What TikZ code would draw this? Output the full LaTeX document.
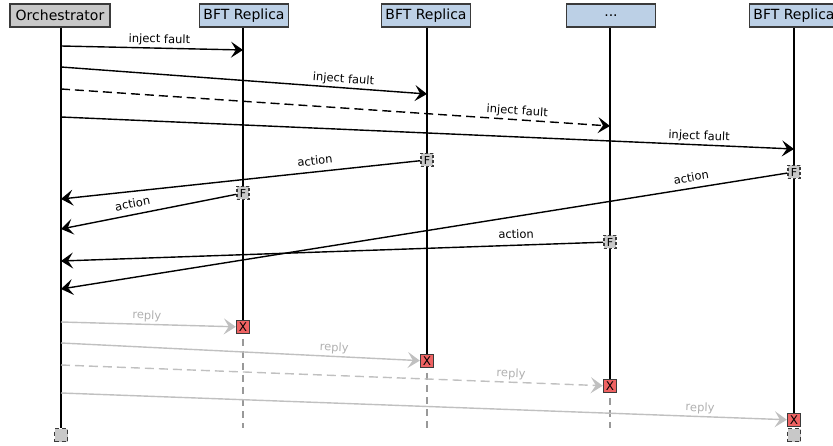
\documentclass[tikz,border=0pt]{standalone}
\usepackage{fontspec}
\setmainfont{DejaVu Sans}
\usetikzlibrary{arrows.meta}
\definecolor{orchfill}{HTML}{C8C8C8}
\definecolor{repfill}{HTML}{BCD0E6}
\definecolor{boxline}{HTML}{3A3A3A}
\definecolor{xred}{HTML}{EE6262}
\definecolor{replygray}{HTML}{C0C0C0}
\definecolor{replytext}{HTML}{B0B0B0}
\definecolor{deadline}{HTML}{999999}
\begin{document}
\begin{tikzpicture}[x=1pt,y=-1pt,
 head/.style={draw=boxline, line width=1.4pt, minimum height=23pt, inner sep=0pt, font=\fontsize{14}{16}\selectfont},
 orchhead/.style={head, fill=orchfill, minimum width=100pt},
 rephead/.style={head, fill=repfill, minimum width=89pt},
 life/.style={line width=1.4pt, black},
 deadlife/.style={line width=1.4pt, deadline, dash pattern=on 7pt off 5pt},
 msg/.style={line width=1.4pt, -{Stealth[length=12pt,width=16pt,inset=5pt]}},
 msgdash/.style={msg, dash pattern=on 9pt off 5pt},
 reply/.style={msg, replygray},
 replydash/.style={reply, dash pattern=on 9pt off 5pt},
 lbl/.style={sloped, above, inner sep=2pt, font=\fontsize{11.5}{13}\selectfont},
 albl/.style={lbl, above=4pt},
 rlbl/.style={lbl, text=replytext},
 faultbox/.style={draw=boxline, fill=orchfill, line width=1.4pt, dash pattern=on 3pt off 2pt, minimum width=12pt, minimum height=13pt, inner sep=0pt, font=\fontsize{11}{11}\selectfont},
 killbox/.style={draw=boxline, fill=xred, line width=1.4pt, minimum width=13pt, minimum height=13pt, inner sep=0pt, font=\fontsize{12}{12}\selectfont},
 endbox/.style={draw=boxline, fill=orchfill, line width=1.4pt, dash pattern=on 4pt off 3pt, minimum width=13pt, minimum height=13pt, inner sep=0pt}
]
\useasboundingbox (0,0) rectangle (833,446);

% heads
\node[orchhead] (orch) at (60,15.5) {Orchestrator};
\node[rephead] (r1) at (244,15.5) {BFT Replica};
\node[rephead] (r2) at (426,15.5) {BFT Replica};
\node[rephead] (r3) at (611,15.5) {...};
\node[rephead] (r4) at (794,15.5) {BFT Replica};

% lifeline points
\coordinate (oL) at (61,0);
\coordinate (x1) at (243,327);
\coordinate (x2) at (427,361);
\coordinate (x3) at (610,386);
\coordinate (x4) at (794,420);
\coordinate (d1) at (243,428);
\coordinate (d2) at (427,428);
\coordinate (d3) at (610,428);

% end squares
\node[endbox] (oSq) at (61,435) {};
\node[endbox] (r4Sq) at (794,435) {};

% lifelines
\draw[life] (orch.south -| oL) -- (oSq.north);
\draw[life] (r1.south -| x1) -- (x1);
\draw[life] (r2.south -| x2) -- (x2);
\draw[life] (r3.south -| x3) -- (x3);
\draw[life] (r4.south -| x4) -- (x4);
\draw[deadlife] (x1) -- (d1);
\draw[deadlife] (x2) -- (d2);
\draw[deadlife] (x3) -- (d3);

% fault and kill boxes
\node[faultbox] (F2) at (427,160) {F};
\node[faultbox] (F1) at (243,193) {F};
\node[faultbox] (F4) at (794,172) {F};
\node[faultbox] (F3) at (610,242) {F};
\node[killbox] (X1) at (x1) {X};
\node[killbox] (X2) at (x2) {X};
\node[killbox] (X3) at (x3) {X};
\node[killbox] (X4) at (x4) {X};

% message end points
\coordinate (i1s) at (61,46);  \coordinate (i1e) at (243,50);
\coordinate (i2s) at (61,67);  \coordinate (i2e) at (427,94);
\coordinate (i3s) at (61,89);  \coordinate (i3e) at (610,126);
\coordinate (i4s) at (61,117); \coordinate (i4e) at (794,149);
\coordinate (a2e) at (61,199);
\coordinate (a1e) at (61,229);
\coordinate (a3e) at (61,261);
\coordinate (a4e) at (61,289);
\coordinate (p1s) at (61,322);
\coordinate (p2s) at (61,343);
\coordinate (p3s) at (61,365);
\coordinate (p4s) at (61,393);

% inject fault
\draw[msg] (i1s) -- node[lbl,pos=.54] {inject fault} (i1e);
\draw[msg] (i2s) -- node[lbl,pos=.77] {inject fault} (i2e);
\draw[msgdash] (i3s) -- node[lbl,pos=.83] {inject fault} (i3e);
\draw[msg] (i4s) -- node[lbl,pos=.87] {inject fault} (i4e);

% actions
\draw[msg] (F2) -- node[albl,pos=.29] {action} (a2e);
\draw[msg] (F1) -- node[albl,pos=.58] {action} (a1e);
\draw[msg] (F4) -- node[albl,pos=.13] {action} (a4e);
\draw[msg] (F3) -- node[albl,pos=.16] {action} (a3e);

% replies
\draw[reply] (p1s) -- node[rlbl,pos=.49] {reply} (X1);
\draw[reply] (p2s) -- node[rlbl,pos=.76] {reply} (X2);
\draw[replydash] (p3s) -- node[rlbl,pos=.83] {reply} (X3);
\draw[reply] (p4s) -- node[rlbl,pos=.88] {reply} (X4);
\end{tikzpicture}
\end{document}
